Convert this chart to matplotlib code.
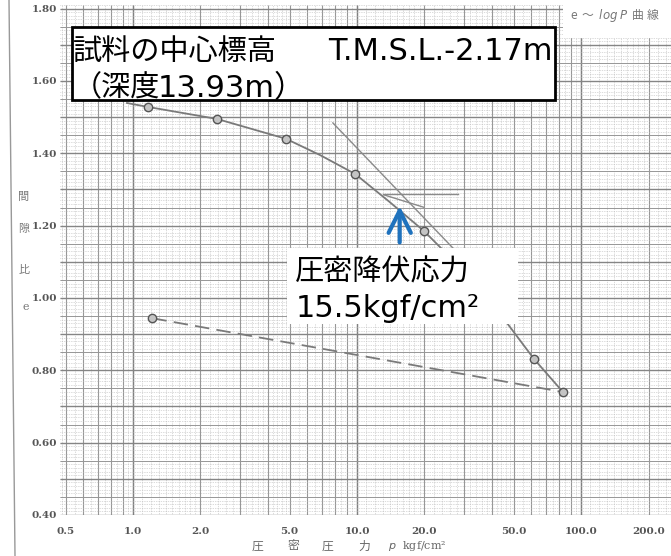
import numpy as np
import matplotlib.pyplot as plt
from matplotlib.patches import Rectangle
from matplotlib.lines import Line2D

plt.rcParams['font.family'] = ['Noto Sans CJK JP', 'DejaVu Sans']

# measured points (loading) and rebound point
load_p = [1.17, 2.37, 4.82, 9.8, 19.9, 61.7, 83.0]
load_e = [1.528, 1.495, 1.440, 1.343, 1.185, 0.831, 0.740]
unload_p = [1.22, 83.0]
unload_e = [0.944, 0.740]

# hand-drawn curve through the loading points
curve_p = [0.94, 1.17, 2.37, 4.82, 6.84, 9.8, 14.0, 19.9, 35.4, 61.7, 83.0]
curve_e = [1.539, 1.528, 1.495, 1.440, 1.395, 1.343, 1.265, 1.185, 1.030, 0.831, 0.740]

# Casagrande construction lines
horiz_p = [13.1, 28.3]
horiz_e = [1.287, 1.287]
bisect_p = [13.2, 19.8]
bisect_e = [1.285, 1.251]
steep_p = [7.8, 26.8]
steep_e = [1.484, 1.138]

yield_p = 15.5
x_ticks = [0.5, 1.0, 2.0, 5.0, 10.0, 20.0, 50.0, 100.0, 200.0]
y_ticks = [0.40, 0.60, 0.80, 1.00, 1.20, 1.40, 1.60, 1.80]

W, H = 671, 556
fig = plt.figure(figsize=(W / 100, H / 100), dpi=100)
ax = fig.add_axes([60 / W, (H - 515) / H, (W - 60) / W, 510 / H])
ax.set_xscale('log')
ax.set_xlim(0.472, 252)
ax.set_ylim(0.40, 1.81)

# graph paper
grid_c = '#979797'
fine_c = '#b8b8b8'
vmain, vfine = [], []
for d in [0.1, 1, 10, 100]:
    for k in range(1, 10):
        vmain.append(k * d)
        step = 0.1 if k < 2 else (0.2 if k < 5 else 0.5)
        for s in np.arange(k + step, k + 1 - 1e-9, step):
            vfine.append(s * d)
ax.vlines(vfine, 0.4, 1.81, color=fine_c, lw=0.5, ls=(0, (1, 1.5)), zorder=1)
ax.vlines(vmain, 0.4, 1.81, color=grid_c, lw=0.8, zorder=1)
ax.vlines([1, 10, 100], 0.4, 1.81, color='#808080', lw=1.0, zorder=1)
ax.hlines(np.arange(0.40, 1.811, 0.01), 0.47, 260, color=fine_c, lw=0.5, ls=(0, (1, 1.5)), zorder=1)
ax.hlines(np.arange(0.45, 1.811, 0.1), 0.47, 260, color=grid_c, lw=0.7, zorder=1)
ax.hlines(np.arange(0.40, 1.811, 0.1), 0.47, 260, color='#858585', lw=1.0, zorder=1)

# blank corner at top right
ax.add_patch(Rectangle((0.823, 0.935), 0.2, 0.08, transform=ax.transAxes,
                       facecolor='white', edgecolor='none', zorder=2))

# curves
ax.plot(curve_p, curve_e, color='#7a7a7a', lw=1.3, zorder=3)
ax.plot(unload_p, unload_e, color='#7a7a7a', lw=1.3, ls=(0, (8, 4)), zorder=3)
for xs, ys in [(horiz_p, horiz_e), (bisect_p, bisect_e), (steep_p, steep_e)]:
    ax.plot(xs, ys, color='#8a8a8a', lw=1.0, zorder=3)
ax.plot(load_p, load_e, 'o', ms=6, mfc='#c4c4c4', mec='#555555', mew=1.0, zorder=4)
ax.plot(unload_p[:1], unload_e[:1], 'o', ms=6, mfc='#c4c4c4', mec='#555555', mew=1.0, zorder=4)

# yield stress arrow
ax.annotate('', xy=(yield_p, 1.262), xytext=(yield_p, 1.146),
            arrowprops=dict(arrowstyle='->,head_length=0.8,head_width=0.4',
                            mutation_scale=20, color='#1f72bd', lw=3), zorder=6)

ax.set_xticks(x_ticks)
ax.set_xticklabels([f'{t:.1f}' for t in x_ticks])
ax.set_xticks([], minor=True)
ax.set_yticks(y_ticks)
ax.set_yticklabels([f'{t:.2f}' for t in y_ticks])
ax.tick_params(length=0, labelsize=7.5, labelcolor='#555555')
ax.tick_params(axis='x', pad=9)
ax.tick_params(axis='y', pad=2)
for lab in ax.get_xticklabels() + ax.get_yticklabels():
    lab.set_family('DejaVu Serif')
    lab.set_fontweight('bold')
for s in ax.spines.values():
    s.set_visible(False)

# annotation boxes
latin = ['DejaVu Sans', 'Noto Sans CJK JP']
fig.add_artist(Rectangle((72 / W, (H - 100) / H), (555 - 72) / W, 73 / H,
                         transform=fig.transFigure, facecolor='white',
                         edgecolor='black', lw=2, zorder=10))
fig.text(73 / W, 1 - 52 / H, '試料の中心標高', fontsize=21,
         va='center', ha='left', zorder=11)
fig.text(328 / W, 1 - 60 / H, 'T.M.S.L.-2.17m', fontsize=22,
         va='baseline', ha='left', zorder=11, family=latin)
fig.text(73 / W, 1 - 88 / H, '（深度', fontsize=21,
         va='center', ha='left', zorder=11)
fig.text(158 / W, 1 - 97 / H, '13.93m）', fontsize=22,
         va='baseline', ha='left', zorder=11, family=latin)

fig.add_artist(Rectangle((287 / W, (H - 324) / H), (518 - 287) / W, 76 / H,
                         transform=fig.transFigure, facecolor='white',
                         edgecolor='none', zorder=10))
fig.text(295 / W, 1 - 272 / H, '圧密降伏応力', fontsize=21,
         va='center', ha='left', zorder=11)
fig.text(296 / W, 1 - 317 / H, '15.5kgf/cm²', fontsize=22,
         va='baseline', ha='left', zorder=11, family=latin)

# axis captions
for ch, yy in [('間', 197), ('隙', 229), ('比', 270)]:
    fig.text(24 / W, 1 - yy / H, ch, fontsize=8, color='#777777', ha='center', va='center')
fig.text(26 / W, 1 - 307 / H, 'e', fontsize=8, color='#777777', ha='center', va='center',
         family='DejaVu Serif')
for ch, xx in [('圧', 258), ('密', 293), ('圧', 328), ('力', 364)]:
    fig.text(xx / W, 1 - 546 / H, ch, fontsize=8.5, color='#666666', ha='center', va='center')
fig.text(388 / W, 1 - 546 / H, r'$p$  kgf/cm²', fontsize=8, color='#666666',
         ha='left', va='center', family='DejaVu Serif')
fig.text(570 / W, 1 - 15 / H, r'e  ～  $log$ $P$  曲 線', fontsize=8.5, color='#777777',
         ha='left', va='center')

fig.add_artist(Line2D([9 / W, 15 / W], [1, 0], transform=fig.transFigure,
                      color='#999999', lw=1))

fig.savefig('out.png', dpi=100)
